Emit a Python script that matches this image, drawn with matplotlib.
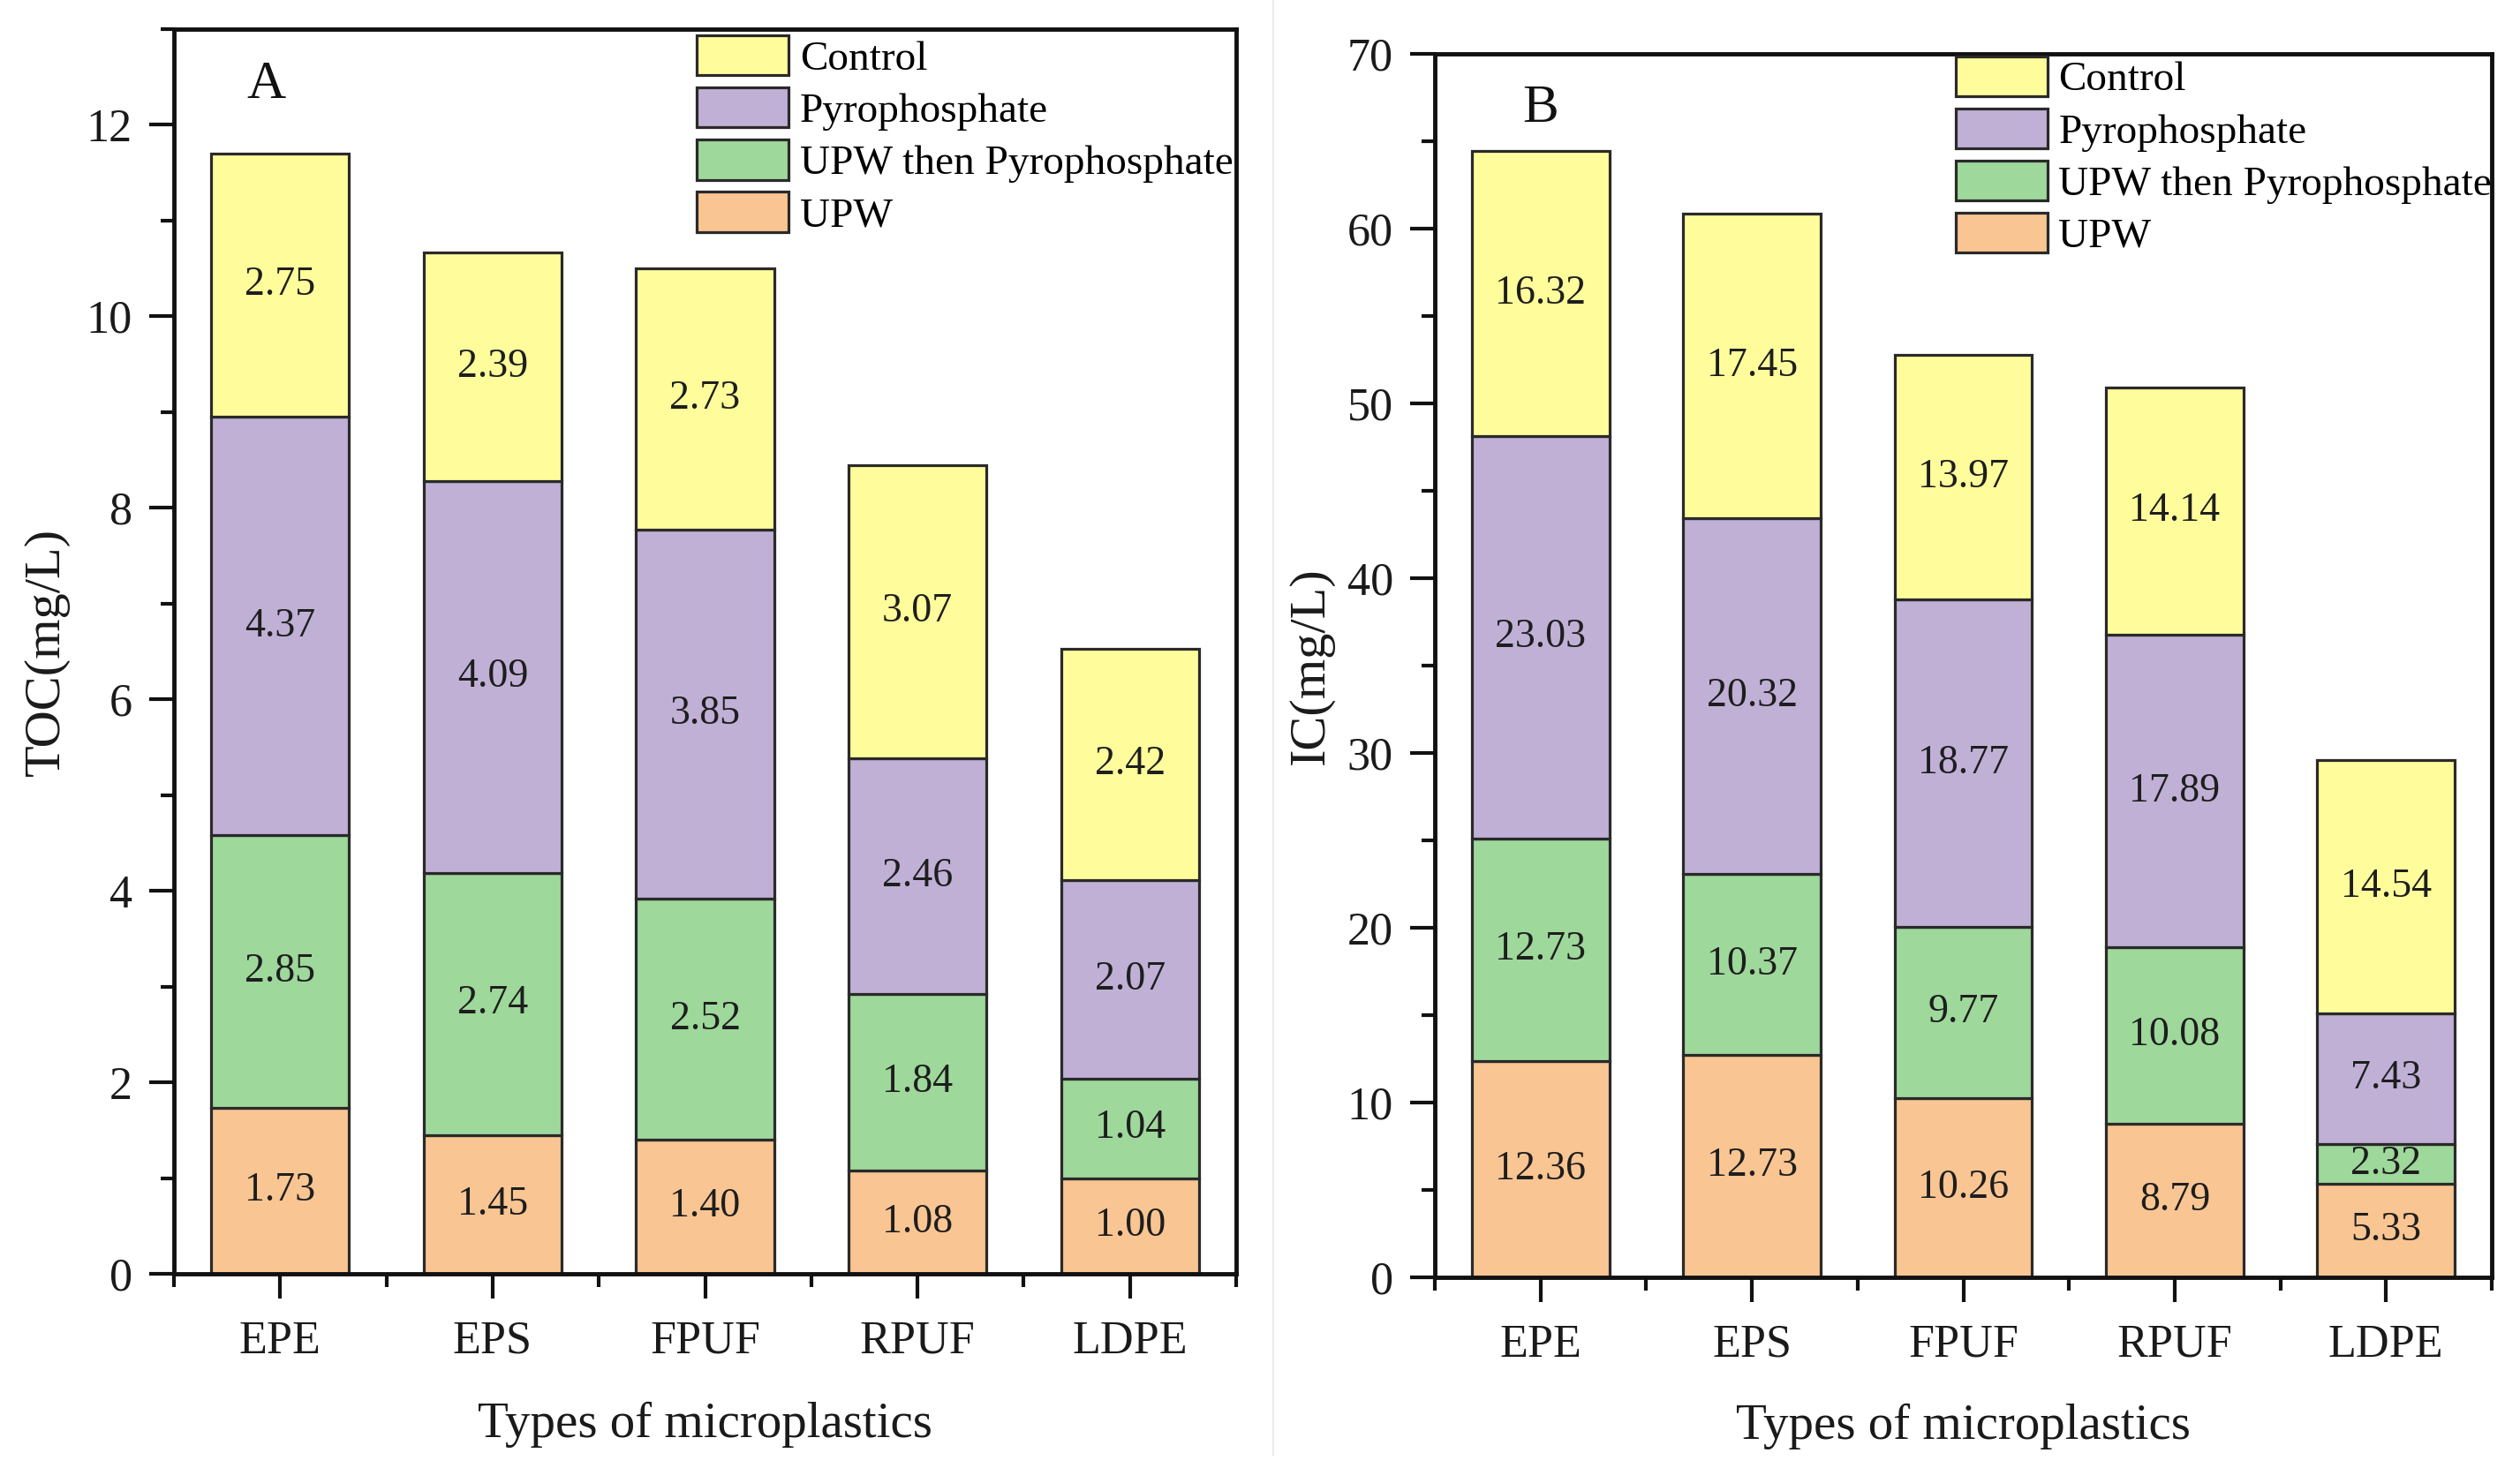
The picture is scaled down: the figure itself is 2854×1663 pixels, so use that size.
import matplotlib
matplotlib.use('Agg')
import matplotlib.pyplot as plt
from matplotlib.ticker import MultipleLocator, FixedLocator
from matplotlib.lines import Line2D

plt.rcParams['font.family'] = ['Liberation Serif', 'DejaVu Serif']

# ---------------- data ----------------
categories = ['EPE', 'EPS', 'FPUF', 'RPUF', 'LDPE']
series_names = ['UPW', 'UPW then Pyrophosphate', 'Pyrophosphate', 'Control']

toc_upw = [1.73, 1.45, 1.40, 1.08, 1.00]
toc_upw_then_pyro = [2.85, 2.74, 2.52, 1.84, 1.04]
toc_pyro = [4.37, 4.09, 3.85, 2.46, 2.07]
toc_control = [2.75, 2.39, 2.73, 3.07, 2.42]

ic_upw = [12.36, 12.73, 10.26, 8.79, 5.33]
ic_upw_then_pyro = [12.73, 10.37, 9.77, 10.08, 2.32]
ic_pyro = [23.03, 20.32, 18.77, 17.89, 7.43]
ic_control = [16.32, 17.45, 13.97, 14.14, 14.54]

colors = ['#F9C592', '#9ED89B', '#C0B0D6', '#FFFD9B']

W, H = 2854, 1663
fig = plt.figure(figsize=(W / 100, H / 100), dpi=100)

def frac_box(left, right, top, bottom):
    return [left / W, 1 - bottom / H, (right - left) / W, (bottom - top) / H]

axA = fig.add_axes(frac_box(197, 1400, 33, 1443))
axB = fig.add_axes(frac_box(1625, 2822, 61, 1447))

def draw(ax, stacks, ylabel, ymax, major, minor, letter, leg_anchor):
    x = list(range(len(categories)))
    bottom = [0.0] * len(categories)
    handles = []
    for name, vals, col in zip(series_names, stacks, colors):
        bars = ax.bar(x, vals, width=0.65, bottom=bottom, color=col,
                      edgecolor='#2a2a2a', linewidth=2.3, label=name, zorder=2)
        ax.bar_label(bars, labels=[f'{v:.2f}' for v in vals], label_type='center',
                     fontsize=33, color='#1e1e1e')
        handles.append(bars)
        bottom = [b + v for b, v in zip(bottom, vals)]
    ax.set_xlim(-0.5, len(categories) - 0.5)
    ax.set_ylim(0, ymax)
    ax.set_xticks(x)
    ax.set_xticklabels(categories)
    ax.xaxis.set_minor_locator(FixedLocator([i - 0.5 for i in range(len(categories) + 1)]))
    ax.yaxis.set_major_locator(MultipleLocator(major))
    ax.yaxis.set_minor_locator(MultipleLocator(minor))
    ax.tick_params(axis='both', which='major', direction='out', length=20, width=3,
                   labelsize=37.5, color='#111111', labelcolor='#1a1a1a')
    ax.tick_params(axis='both', which='minor', direction='out', length=11, width=3,
                   color='#111111')
    ax.tick_params(axis='x', which='major', pad=18)
    ax.tick_params(axis='y', which='major', pad=14)
    for s in ax.spines.values():
        s.set_linewidth(3.5)
        s.set_color('#111111')
    ax.set_ylabel(ylabel, fontsize=42, va='center', color='#1a1a1a')
    ax.set_xlabel('Types of microplastics', fontsize=41, color='#1a1a1a')
    ax.xaxis.set_label_coords(0.5, -0.103)
    ax.text(letter[1], letter[2], letter[0], transform=ax.transAxes, fontsize=44,
            ha='center', va='center', color='#111111')
    ax.legend(handles[::-1], series_names[::-1], loc='upper right',
              bbox_to_anchor=leg_anchor, frameon=False, fontsize=34,
              handlelength=2.2, handleheight=1.1, handletextpad=0.26,
              labelspacing=0.22, borderpad=0, borderaxespad=0)

draw(axA, [toc_upw, toc_upw_then_pyro, toc_pyro, toc_control], 'TOC(mg/L)',
     13, 2, 1, ('A', 0.087, 0.955), (0.997, 0.995))
axA.yaxis.set_label_coords(-0.1197, 0.5)

draw(axB, [ic_upw, ic_upw_then_pyro, ic_pyro, ic_control], 'IC(mg/L)',
     70, 10, 5, ('B', 0.100, 0.955), (1.0, 0.998))
axB.yaxis.set_label_coords(-0.117, 0.5)

fig.add_artist(Line2D([1442 / W, 1442 / W], [15 / H, 1.0], transform=fig.transFigure,
                      color='#ececec', linewidth=1.5))

fig.savefig('out.png', dpi=100, facecolor='white')
